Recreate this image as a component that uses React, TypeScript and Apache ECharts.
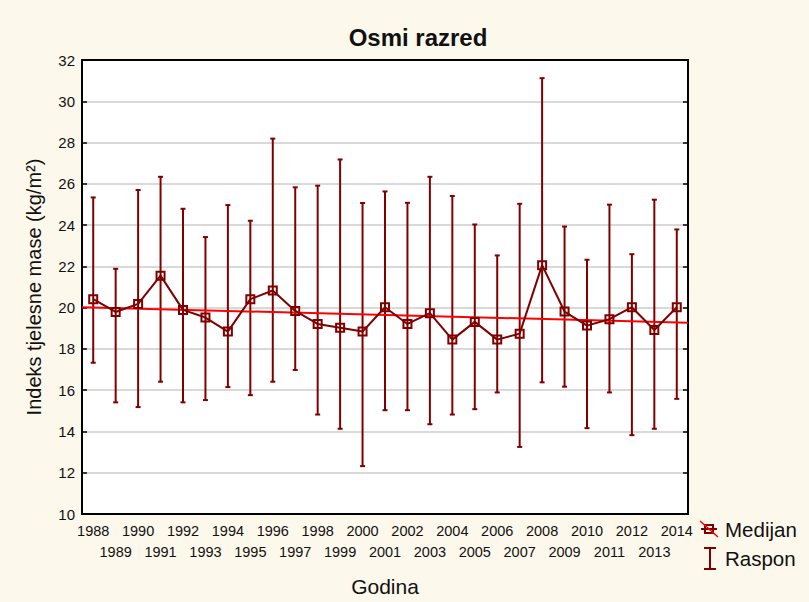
import React, { useEffect, useRef } from "react";
import * as echarts from "echarts";

const years = ["1988","1989","1990","1991","1992","1993","1994","1995","1996","1997","1998","1999","2000","2001","2002","2003","2004","2005","2006","2007","2008","2009","2010","2011","2012","2013","2014"];
const medians = [20.41,19.79,20.18,21.55,19.89,19.52,18.84,20.41,20.83,19.84,19.21,19.03,18.84,20.02,19.21,19.73,18.45,19.31,18.45,18.74,22.06,19.81,19.13,19.44,20.02,18.92,20.02];
const highs = [25.34,21.88,25.70,26.34,24.79,23.42,24.97,24.21,28.19,25.83,25.91,27.18,25.07,25.63,25.08,26.34,25.41,24.03,22.53,25.03,31.12,23.93,22.32,24.99,22.59,25.23,23.79];
const lows = [17.33,15.41,15.18,16.41,15.41,15.52,16.15,15.76,16.41,16.98,14.82,14.13,12.32,15.03,15.03,14.35,14.82,15.08,15.89,13.25,16.38,16.17,14.16,15.89,13.82,14.13,15.58];
const trendX = [1987.5, 2014.5];
const trendY = [20.02, 19.27];
const yTicks = { min: 10, max: 32, step: 2 };

const DARK = "#800000";
const FONT = "Liberation Sans, Arial, sans-serif";

export default function App() {
  const ref = useRef<HTMLDivElement>(null);
  useEffect(() => {
    if (!ref.current) return;
    const chart = echarts.init(ref.current, undefined, { renderer: "svg" });
    const evenTick = (i: number) => i % 2 === 0;
    chart.setOption({
      animation: false,
      backgroundColor: "#FDF8EC",
      title: {
        text: "Osmi razred",
        left: 413,
        top: 20,
        textAlign: "center",
        textStyle: { fontFamily: FONT, fontSize: 24, fontWeight: "bold", color: "#111" },
      },
      grid: { left: 82, top: 60, right: 121, bottom: 88, show: true, backgroundColor: "#fff", borderWidth: 0 },
      xAxis: [
        {
          type: "category",
          data: years,
          position: "bottom",
          boundaryGap: true,
          axisLine: { lineStyle: { color: "#000", width: 2 } },
          axisTick: { inside: true, length: 5, alignWithLabel: true, interval: (i: number) => evenTick(i), lineStyle: { color: "#000", width: 1.5 } },
          axisLabel: {
            interval: 0,
            margin: 6,
            fontFamily: FONT,
            fontSize: 14.5,
            color: "#111",
            lineHeight: 21,
            formatter: (v: string, i: number) => (i % 2 === 1 ? "\n" + v : v),
          },
          splitLine: { show: false },
          name: "Godina",
          nameLocation: "middle",
          nameGap: 62,
          nameTextStyle: { fontFamily: FONT, fontSize: 21, color: "#111" },
        },
        {
          type: "category",
          data: years,
          position: "top",
          boundaryGap: true,
          axisLine: { lineStyle: { color: "#000", width: 2 } },
          axisTick: { inside: true, length: 5, alignWithLabel: true, interval: (i: number) => evenTick(i), lineStyle: { color: "#000", width: 1.5 } },
          axisLabel: { show: false },
          splitLine: { show: false },
        },
        {
          type: "value",
          min: trendX[0],
          max: trendX[1],
          show: false,
        },
      ],
      yAxis: [
        {
          type: "value",
          min: yTicks.min,
          max: yTicks.max,
          interval: yTicks.step,
          position: "left",
          axisLine: { show: true, lineStyle: { color: "#000", width: 2 } },
          axisTick: { show: true, inside: true, length: 5, lineStyle: { color: "#000", width: 1.5 } },
          axisLabel: { fontFamily: FONT, fontSize: 15, color: "#111", margin: 7 },
          splitLine: { show: true, lineStyle: { color: "#d9d9d9", width: 2 } },
          name: "Indeks tjelesne mase (kg/m²)",
          nameLocation: "middle",
          nameGap: 38,
          nameRotate: 90,
          nameTextStyle: { fontFamily: FONT, fontSize: 20, color: "#111" },
        },
        {
          type: "value",
          min: yTicks.min,
          max: yTicks.max,
          interval: yTicks.step,
          position: "right",
          axisLine: { show: true, lineStyle: { color: "#000", width: 2 } },
          axisTick: { show: true, inside: true, length: 5, lineStyle: { color: "#000", width: 1.5 } },
          axisLabel: { show: false },
          splitLine: { show: false },
        },
      ],
      series: [
        {
          type: "custom",
          xAxisIndex: 0,
          yAxisIndex: 0,
          data: years.map((_, i) => [i, lows[i], highs[i]]),
          renderItem: (params: any, api: any) => {
            const x = api.value(0);
            const lo = api.coord([x, api.value(1)]);
            const hi = api.coord([x, api.value(2)]);
            const st = { stroke: DARK, lineWidth: 2 };
            return {
              type: "group",
              children: [
                { type: "line", shape: { x1: lo[0], y1: lo[1], x2: hi[0], y2: hi[1] }, style: st },
                { type: "line", shape: { x1: hi[0] - 2.5, y1: hi[1], x2: hi[0] + 2.5, y2: hi[1] }, style: st },
                { type: "line", shape: { x1: lo[0] - 2.5, y1: lo[1], x2: lo[0] + 2.5, y2: lo[1] }, style: st },
              ],
            };
          },
          z: 2,
        },
        {
          type: "line",
          xAxisIndex: 2,
          yAxisIndex: 0,
          data: trendX.map((x, i) => [x, trendY[i]]),
          symbol: "none",
          lineStyle: { color: "#ff0000", width: 2 },
          z: 3,
        },
        {
          type: "line",
          xAxisIndex: 0,
          yAxisIndex: 0,
          data: medians,
          symbol: "rect",
          symbolSize: 8,
          showAllSymbol: true,
          lineStyle: { color: DARK, width: 2 },
          itemStyle: { color: "rgba(255,255,255,0)", borderColor: DARK, borderWidth: 2 },
          z: 4,
        },
      ],
      graphic: [
        { type: "line", shape: { x1: 701, y1: 529, x2: 717, y2: 529 }, style: { stroke: DARK, lineWidth: 2 } },
        { type: "rect", shape: { x: 705, y: 525, width: 8, height: 8 }, style: { stroke: DARK, fill: "none", lineWidth: 2 } },
        { type: "line", shape: { x1: 700, y1: 521, x2: 718, y2: 537 }, style: { stroke: "#ff0000", lineWidth: 1.5 } },
        { type: "text", x: 725, y: 529, style: { text: "Medijan", fontFamily: FONT, fontSize: 20.5, fill: "#111", verticalAlign: "middle" } },
        { type: "line", shape: { x1: 710, y1: 548, x2: 710, y2: 569 }, style: { stroke: DARK, lineWidth: 2 } },
        { type: "line", shape: { x1: 704, y1: 548, x2: 716, y2: 548 }, style: { stroke: DARK, lineWidth: 2 } },
        { type: "line", shape: { x1: 704, y1: 569, x2: 716, y2: 569 }, style: { stroke: DARK, lineWidth: 2 } },
        { type: "text", x: 725, y: 558, style: { text: "Raspon", fontFamily: FONT, fontSize: 20.5, fill: "#111", verticalAlign: "middle" } },
      ],
    });
    return () => chart.dispose();
  }, []);
  return <div ref={ref} style={{ width: 809, height: 602, position: "absolute", left: 0, top: 0 }} />;
}
